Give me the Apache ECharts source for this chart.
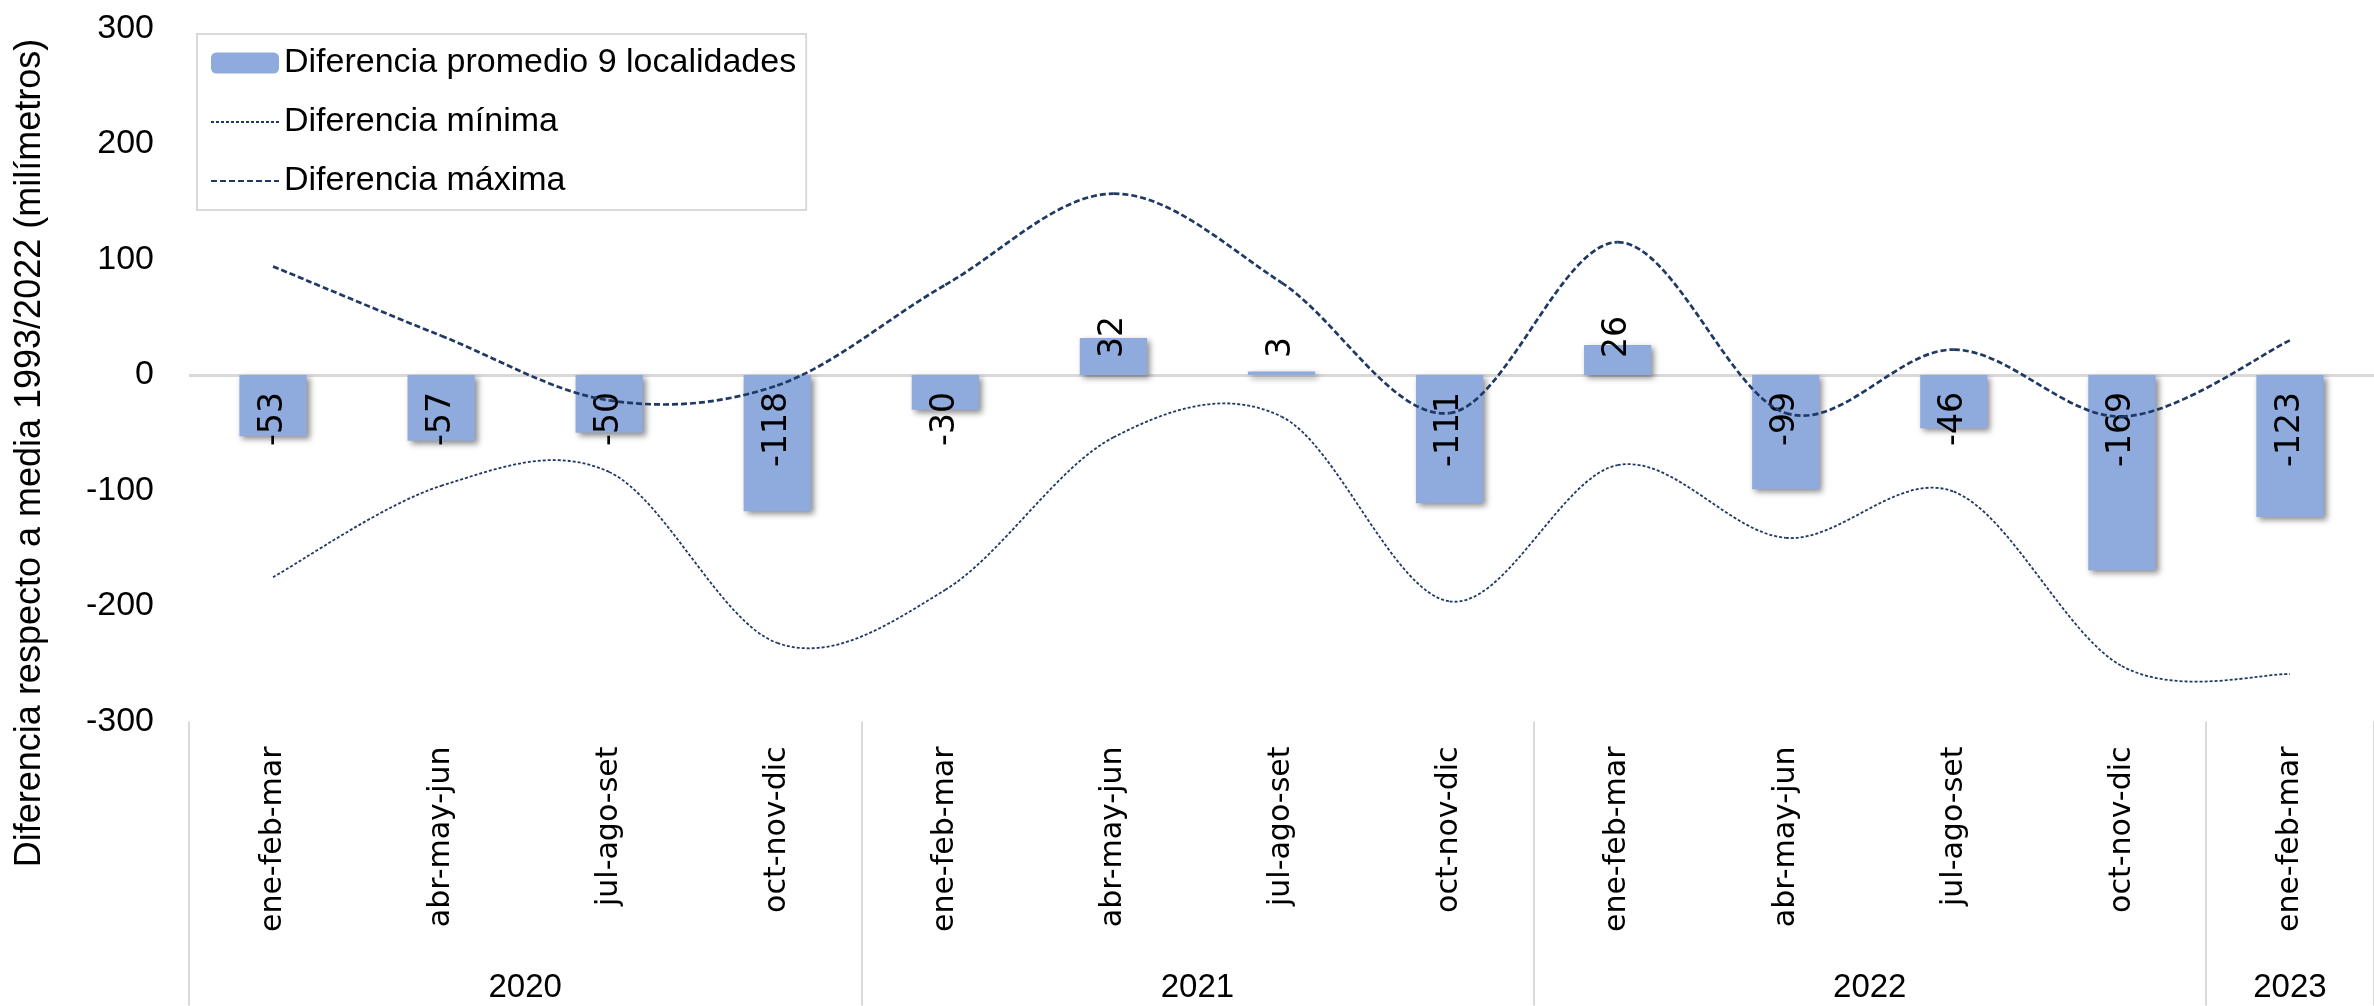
<!DOCTYPE html>
<html><head><meta charset="utf-8">
<script src="https://cdn.jsdelivr.net/npm/echarts@6/dist/echarts.min.js"></script>
<style>html,body{margin:0;padding:0;background:#fff}#c{width:2374px;height:1006px}</style>
</head><body><div id="c"></div>
<script>
const quarters = ['ene-feb-mar','abr-may-jun','jul-ago-set','oct-nov-dic',
                  'ene-feb-mar','abr-may-jun','jul-ago-set','oct-nov-dic',
                  'ene-feb-mar','abr-may-jun','jul-ago-set','oct-nov-dic',
                  'ene-feb-mar'];
const years = ['2020','2021','2022','2023'];
const yearStart = [0, 4, 8, 12];
const yearEnd = [4, 8, 12, 13];
const promedio = [-53, -57, -50, -118, -30, 32, 3, -111, 26, -99, -46, -169, -123];
const minima = [-175, -96, -84, -232, -186, -54, -36, -196, -78, -141, -101, -252, -259];
const maxima = [94, 34, -22, -9, 78, 157, 80, -33, 115, -33, 22, -36, 30];
const yTicks = [-300, -200, -100, 0, 100, 200, 300];
const seriesNames = ['Diferencia promedio 9 localidades', 'Diferencia mínima', 'Diferencia máxima'];
const yTitle = 'Diferencia respecto a media 1993/2022 (milímetros)';

const yearMid = years.map((y, i) => (yearStart[i] + yearEnd[i]) / 2);
const yearBounds = yearStart.concat([yearEnd[yearEnd.length - 1]]);
const NAVY = '#1F3864';
const CAL = '"Liberation Sans", Arial, sans-serif';
const VER = '"DejaVu Sans", Verdana, sans-serif';
const MIN_STYLE = {color: NAVY, width: 1.8, type: [3, 2]};
const MAX_STYLE = {color: NAVY, width: 2.7, type: [6, 3]};

// Excel-style smoothed line: cubic Bezier segments through each point,
// control points at 1/6 of the neighbour chord (positions from the axis scales).
function smoothLineSeries(name, values, style) {
  const n = values.length;
  return {
    type: 'custom', name: name, xAxisIndex: 0, yAxisIndex: 0, z: 3, silent: true,
    data: values.map((v, i) => [i, v]),
    encode: {x: 0, y: 1},
    renderItem: function (params, api) {
      const i = params.dataIndex;
      if (i >= n - 1) return null;
      const pt = k => { const kk = Math.max(0, Math.min(n - 1, k)); return api.coord([kk, values[kk]]); };
      const p0 = pt(i - 1), p1 = pt(i), p2 = pt(i + 1), p3 = pt(i + 2);
      const t = 1 / 6;
      return {
        type: 'bezierCurve',
        shape: {
          x1: p1[0], y1: p1[1], x2: p2[0], y2: p2[1],
          cpx1: p1[0] + (p2[0] - p0[0]) * t, cpy1: p1[1] + (p2[1] - p0[1]) * t,
          cpx2: p2[0] - (p3[0] - p1[0]) * t, cpy2: p2[1] - (p3[1] - p1[1]) * t
        },
        style: {stroke: style.color, lineWidth: style.width, lineDash: style.type, fill: 'none'}
      };
    }
  };
}

const chart = echarts.init(document.getElementById('c'), null, {renderer: 'canvas'});
chart.setOption({
  animation: false,
  backgroundColor: '#fff',
  grid: {left: 189, top: 28.5, bottom: 284.5, right: -11, containLabel: false},
  legend: {
    orient: 'vertical', left: 197, top: 34,
    data: [
      {name: seriesNames[0]},
      {name: seriesNames[1], itemStyle: {opacity: 0}},
      {name: seriesNames[2], itemStyle: {opacity: 0}}
    ],
    itemWidth: 68, itemHeight: 21, itemGap: 19,
    padding: [9, 10, 9, 13],
    borderColor: '#d9d9d9', borderWidth: 2,
    textStyle: {fontFamily: CAL, fontSize: 34, color: '#000', lineHeight: 40}
  },
  graphic: [{
    type: 'text', x: 30, y: 453, rotation: Math.PI / 2,
    style: {text: yTitle, font: '36px "Liberation Sans", Arial, sans-serif', fill: '#000',
            align: 'center', verticalAlign: 'middle', textAlign: 'center', textVerticalAlign: 'middle'}
  }],
  xAxis: [{
    type: 'category', data: quarters, position: 'bottom',
    axisLine: {show: false}, axisTick: {show: false}, splitLine: {show: false},
    axisLabel: {rotate: 90, margin: 25, interval: 0, fontFamily: VER, fontSize: 30, color: '#000'}
  }, {
    type: 'value', min: 0, max: quarters.length, position: 'bottom',
    axisLine: {show: false}, splitLine: {show: false},
    axisTick: {show: true, customValues: yearBounds, length: 284, inside: false,
               lineStyle: {color: '#d9d9d9', width: 2}},
    axisLabel: {customValues: yearMid, margin: 250, fontFamily: CAL, fontSize: 33, color: '#000',
                formatter: v => years[yearMid.indexOf(v)]}
  }],
  yAxis: {
    type: 'value', min: yTicks[0], max: yTicks[yTicks.length - 1], interval: 100,
    axisLine: {show: false}, axisTick: {show: false},
    axisLabel: {margin: 35, fontFamily: CAL, fontSize: 34, color: '#000'},
    splitLine: {show: true, lineStyle: {width: 3, color: yTicks.map(v => v === 0 ? '#d9d9d9' : 'rgba(0,0,0,0)')}}
  },
  series: [{
    name: seriesNames[0], type: 'bar', xAxisIndex: 0, barWidth: '40%',
    data: promedio.map(v => ({value: v, label: {position: v >= 0 ? 'insideBottom' : 'insideTop', align: v >= 0 ? 'left' : 'right'}})),
    itemStyle: {color: '#8FAADC', shadowColor: 'rgba(0,0,0,0.45)', shadowBlur: 6, shadowOffsetX: 3, shadowOffsetY: 3},
    label: {show: true, rotate: 90, distance: 17, verticalAlign: 'middle', fontFamily: VER, fontSize: 33, color: '#000'}
  },
  // legend entries for the two lines (dashed line icons)
  {name: seriesNames[1], type: 'line', xAxisIndex: 0, data: [], symbol: 'none', lineStyle: MIN_STYLE, itemStyle: {color: NAVY}},
  {name: seriesNames[2], type: 'line', xAxisIndex: 0, data: [], symbol: 'none', lineStyle: MAX_STYLE, itemStyle: {color: NAVY}},
  smoothLineSeries(seriesNames[1], minima, MIN_STYLE),
  smoothLineSeries(seriesNames[2], maxima, MAX_STYLE)
  ]
});
</script></body></html>
